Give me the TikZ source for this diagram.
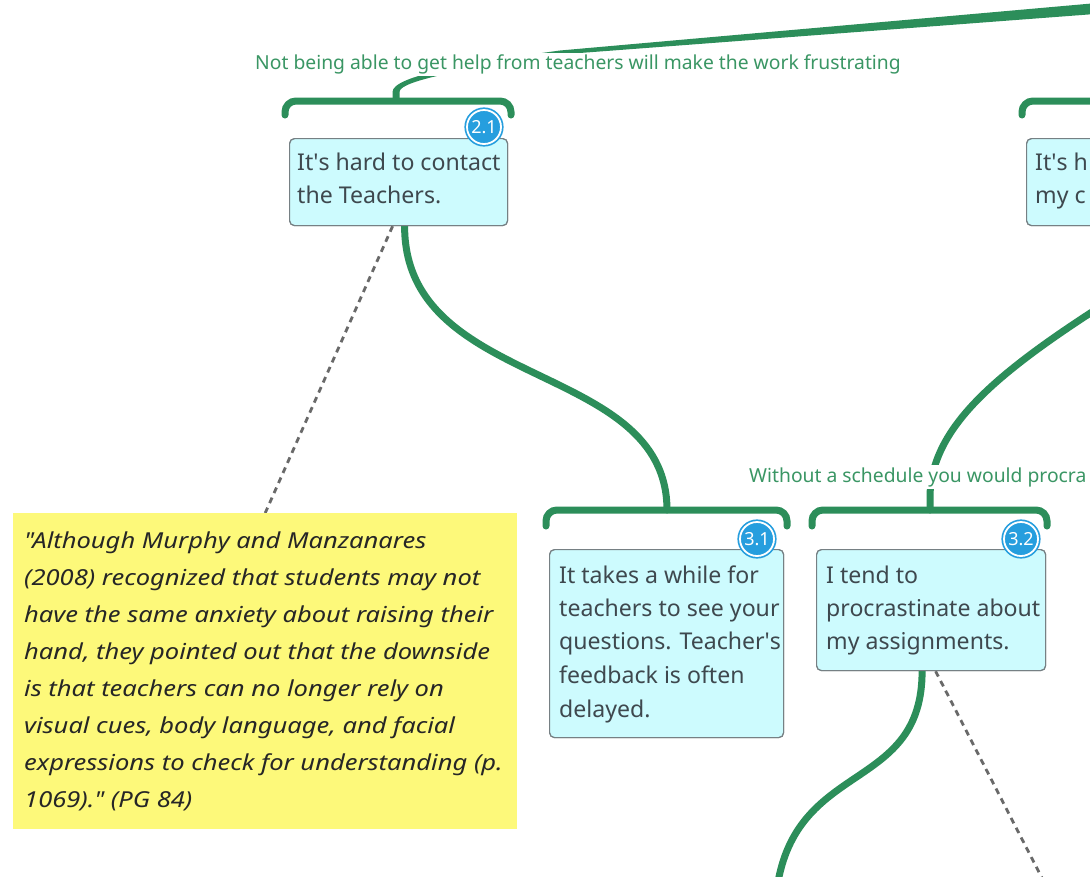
\documentclass[tikz,border=0pt]{standalone}
\usepackage{fontspec}
\setmainfont{Noto Sans}
\newfontfamily\handfont{Noto Sans}[FakeStretch=1.16]
\definecolor{brgreen}{RGB}{44,142,90}
\definecolor{lblgreen}{RGB}{58,150,100}
\definecolor{boxfill}{RGB}{205,251,254}
\definecolor{boxdraw}{RGB}{118,128,132}
\definecolor{boxtext}{RGB}{62,72,78}
\definecolor{badgeblue}{RGB}{38,158,222}
\definecolor{noteyellow}{RGB}{253,249,122}
\definecolor{dashgray}{RGB}{105,105,105}
\newcommand{\q}{\textquotesingle}
\begin{document}
\begin{tikzpicture}[x=1pt,y=-1pt,
 branch/.style={draw=brgreen, line width=7, line cap=round},
 bracket/.style={draw=brgreen, line width=7, line cap=round, rounded corners=11},
 topicbox/.style={draw=boxdraw, line width=1.2, fill=boxfill, rounded corners=5, anchor=north west, inner sep=0},
 boxtxt/.style={anchor=base west, inner sep=0, text=boxtext, font=\fontsize{23.1}{26}\selectfont},
 lbl/.style={anchor=base west, text=lblgreen, fill=white, inner xsep=1, inner ysep=2, font=\fontsize{19.3}{22}\selectfont},
 badge/.style={circle, fill=badgeblue, draw=badgeblue, double=white, double distance=1.8, line width=1.7, minimum size=34, inner sep=0, text=white, font=\bfseries\fontsize{18}{19}\selectfont},
 notetxt/.style={anchor=base west, inner sep=0, text=black!85, font=\handfont\itshape\fontsize{22}{26}\selectfont},
 dashline/.style={draw=dashgray, line width=2.8, dash pattern=on 6 off 5},
]
\useasboundingbox (0,0) rectangle (1090,876);
\fill[white] (0,0) rectangle (1090,876);

% nodes (frames)
\node[topicbox, minimum width=218, minimum height=87] (b21) at (289,138) {};
\node[topicbox, minimum width=100, minimum height=87] (bTR) at (1026,138) {};
\node[topicbox, minimum width=234, minimum height=188] (b31) at (549,549) {};
\node[topicbox, minimum width=229, minimum height=121] (b32) at (816,549) {};
\node[fill=noteyellow, anchor=north west, minimum width=504, minimum height=316, inner sep=0] (note) at (13,513) {};
\coordinate (s21) at (396,101);
\coordinate (s31) at (667,510);
\coordinate (s32) at (930,510);
\coordinate (offR) at (1095,310);
\coordinate (offB) at (778,882);
\coordinate (offD) at (1043,880);

% connectors (behind)
\fill[brgreen] (392.5,101) -- (392.5,92) .. controls (392.5,76) and (468,63) .. (560,50.5) -- (1095,3.2) -- (1095,14) -- (560,54.5) .. controls (472,68) and (399.5,80) .. (399.5,92) -- (399.5,101) -- cycle;
\draw[branch] ([xshift=6]b21.south) .. controls +(0,165) and +(0,-150) .. (s31);
\draw[branch] (offR) .. controls (990,378) and (932,430) .. (930,495) -- (s32);
\draw[branch] ([xshift=-9]b32.south) .. controls +(0,120) and (800,760) .. (offB);
\draw[dashline] ([xshift=-6]b21.south) -- (note.north);
\draw[dashline] ([xshift=4.5]b32.south) -- (offD);

% labels
\node[lbl] (lab1) at (254,69.5) {Not being able to get help from teachers will make the work frustrating};
\node[lbl] (lab2) at (748,482) {Without a schedule you would procra};

% brackets
\draw[bracket] (285,115) |- (s21) -| (511,115);
\draw[bracket] (1022,115) |- (1100,101);
\draw[bracket] (546,526) |- (s31) -| (787,526);
\draw[bracket] (812,526) |- (s32) -| (1047,526);

% redraw frames on top of connector ends
\node[topicbox, minimum width=218, minimum height=87] at (289,138) {};
\node[topicbox, minimum width=100, minimum height=87] at (1026,138) {};
\node[topicbox, minimum width=234, minimum height=188] at (549,549) {};
\node[topicbox, minimum width=229, minimum height=121] at (816,549) {};
\node[fill=noteyellow, anchor=north west, minimum width=504, minimum height=316, inner sep=0] at (13,513) {};

% texts
\node[boxtxt] (t21a) at (297,170) {It\q s hard to contact};
\node[boxtxt] (t21b) at (297,203) {the Teachers.};
\node[boxtxt] (tTRa) at (1035,170) {It\q s h};
\node[boxtxt] (tTRb) at (1035,203) {my c};
\node[boxtxt] (t31a) at (559,583) {It takes a while for};
\node[boxtxt] (t31b) at (559,616) {teachers to see your};
\node[boxtxt] (t31c) at (559,649.5) {questions. Teacher\q s};
\node[boxtxt] (t31d) at (559,683) {feedback is often};
\node[boxtxt] (t31e) at (559,717) {delayed.};
\node[boxtxt] (t32a) at (826,583) {I tend to};
\node[boxtxt] (t32b) at (826,616) {procrastinate about};
\node[boxtxt] (t32c) at (826,649.5) {my assignments.};

\node[notetxt] (n1) at (24,548) {"Although Murphy and Manzanares};
\node[notetxt] (n2) at (24,585) {(2008) recognized that students may not};
\node[notetxt] (n3) at (24,622) {have the same anxiety about raising their};
\node[notetxt] (n4) at (24,659) {hand, they pointed out that the downside};
\node[notetxt] (n5) at (24,696) {is that teachers can no longer rely on};
\node[notetxt] (n6) at (24,733) {visual cues, body language, and facial};
\node[notetxt] (n7) at (24,770) {expressions to check for understanding (p.};
\node[notetxt] (n8) at (24,807) {1069)." (PG 84)};

% badges
\node[badge] (g21) at (484,127) {2.1};
\node[badge] (g31) at (757,539) {3.1};
\node[badge] (g32) at (1021,539) {3.2};
\end{tikzpicture}
\end{document}
